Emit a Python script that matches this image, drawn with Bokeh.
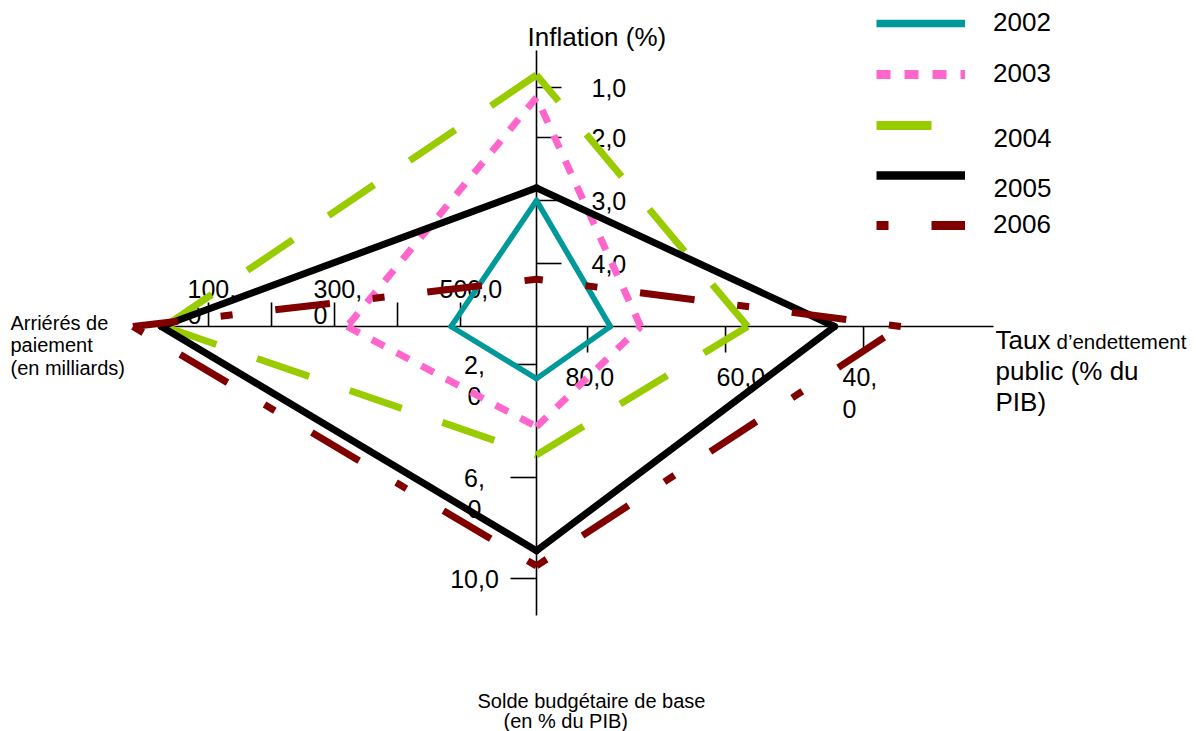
import numpy as np
from bokeh.plotting import figure
from bokeh.models import Range1d, Legend, LegendItem, ColumnDataSource
from bokeh.core.properties import value
from bokeh.embed import file_html
from bokeh.resources import INLINE

# ---------------- data ----------------
years = ["2002", "2003", "2004", "2005", "2006"]
inflation = [3.0, 1.2, 0.75, 2.8, 4.25]        # Inflation (%)
dette = [76.7, 72.3, 56.8, 44.2, 34.6]         # Taux d'endettement public (% du PIB)
solde = [2.5, 4.2, 5.2, 8.9, 9.5]              # Solde budgétaire de base (en % du PIB)
arrieres = [485, 320, 30, 25, -20]             # Arriérés de paiement (en milliards)

inflation_ticks = [1.0, 2.0, 3.0, 4.0]
inflation_tick_labels = ["1,0", "2,0", "3,0", "4,0"]
dette_ticks = [80.0, 60.0, 40.0]
dette_tick_labels = ["80,0", "60,0", "40,\n0"]
solde_ticks = [2.0, 6.0, 10.0]
solde_tick_labels = ["2,\n0", "6,\n0", "10,0"]
arrieres_ticks = [100, 200, 300, 400, 500]
arrieres_tick_labels = ["100,\n0", "", "300,\n0", "", "500,0"]

# ---------------- axis scales (value -> distance from centre, px) ----------------
def lin_ext(v, kv, kr):
    kv = np.asarray(kv, float); kr = np.asarray(kr, float)
    order = np.argsort(kv); kv = kv[order]; kr = kr[order]
    v = np.atleast_1d(np.asarray(v, float))
    out = np.interp(v, kv, kr)
    lo = v < kv[0]; hi = v > kv[-1]
    out[lo] = kr[0] + (v[lo] - kv[0]) * (kr[1] - kr[0]) / (kv[1] - kv[0])
    out[hi] = kr[-1] + (v[hi] - kv[-1]) * (kr[-1] - kr[-2]) / (kv[-1] - kv[-2])
    return out

def r_infl(v):
    return lin_ext(v, [1, 2, 3, 4, 5], [239, 189, 126, 63, 0])

def r_solde(v):
    return lin_ext(v, [0, 2, 6, 10], [0, 38, 151, 252])

def r_dette(v):
    return (87.4 - np.asarray(v, float)) * 6.9

def r_arr(v):
    return (620.6 - np.asarray(v, float)) * 0.63

FONT_NAME = "Liberation Sans"
FONT = value(FONT_NAME)

W, H = 1196, 731
p = figure(width=W, height=H, x_range=Range1d(-536, W - 536), y_range=Range1d(326 - H, 326),
           output_backend="svg", toolbar_location=None, min_border=0,
           x_axis_type=None, y_axis_type=None)
p.grid.visible = False
p.outline_line_color = None
p.background_fill_color = "white"
p.border_fill_color = "white"

def add_text(xs, ys, texts, size, align="left", baseline="middle", line_h=28, color="black"):
    X, Y, T = [], [], []
    for x, y, t in zip(xs, ys, texts):
        for k, line in enumerate(t.split("\n")):
            if line == "":
                continue
            X.append(float(x)); Y.append(float(y) - k * line_h); T.append(line)
    src = ColumnDataSource(dict(x=X, y=Y, text=T))
    p.text(x="x", y="y", text="text", source=src, text_font=FONT, text_font_size=size,
           text_align=align, text_baseline=baseline, text_color=color)

# ---------------- axes ----------------
AX_W = 1.6
p.segment(x0=[0, -379], y0=[276, 0], x1=[0, 457], y1=[-289, 0], line_color="black", line_width=AX_W)

ri = r_infl(inflation_ticks)
p.segment(x0=np.zeros_like(ri), y0=ri, x1=np.full_like(ri, 25), y1=ri, line_color="black", line_width=AX_W)
rs = r_solde(solde_ticks)
p.segment(x0=np.full_like(rs, -26), y0=-rs, x1=np.zeros_like(rs), y1=-rs, line_color="black", line_width=AX_W)
ra = r_arr(arrieres_ticks)
p.segment(x0=-ra, y0=np.zeros_like(ra), x1=-ra, y1=np.full_like(ra, 24), line_color="black", line_width=AX_W)
rd = r_dette(dette_ticks)
p.segment(x0=rd, y0=np.zeros_like(rd), x1=rd, y1=np.full_like(rd, -26), line_color="black", line_width=AX_W)

# tick labels
add_text(np.full_like(ri, 55), ri, inflation_tick_labels, "25px", "left")
add_text(np.full_like(rs, -62), -rs, solde_tick_labels, "25px", "center", line_h=31)
add_text(-ra - 21, np.full_like(ra, 38), arrieres_tick_labels, "25px", "left", line_h=26)
dette_label_dx = [-22, -9, -21]
add_text(rd + np.array(dette_label_dx), np.full_like(rd, -50), dette_tick_labels, "25px", "left", line_h=32)

# axis titles
add_text([-9], [290], ["Inflation (%)"], "26px", "left")
add_text([459], [-13], ["Taux"], "26px", "left")
add_text([520], [-15], ["d\u2019endettement"], "20.5px", "left")
add_text([459, 459], [-44, -75], ["public (% du", "PIB)"], "26px", "left")
add_text([-526], [4], ["Arriérés de\npaiement\n(en milliards)"], "20px", "left", line_h=22.5)
add_text([-59], [-374], ["Solde budgétaire de base"], "20px", "left")
add_text([-33], [-394], ["(en % du PIB)"], "20px", "left")

# ---------------- series ----------------
styles = {
    "2002": dict(color="#009999", width=5.5, dash="solid", cap="round", leg_width=7.5),
    "2003": dict(color="#FF66CC", width=7, dash="14 14", cap="butt", leg_width=9),
    "2004": dict(color="#99CC00", width=7, dash="55 43", cap="butt", leg_width=9),
    "2005": dict(color="#000000", width=7, dash="solid", cap="round", leg_width=8.5),
    "2006": dict(color="#800000", width=7, dash="12 43 55 43", cap="butt", leg_width=9),
}

rI = r_infl(inflation); rD = r_dette(dette); rS = r_solde(solde); rA = r_arr(arrieres)
proxies = {}
for i, yr in enumerate(years):
    st = styles[yr]
    # vertices: bottom (solde), right (dette), top (inflation), left (arriérés);
    # each side is its own stroke so the dash pattern restarts at every vertex
    vx = [0.0, rD[i], 0.0, -rA[i]]
    vy = [-rS[i], 0.0, rI[i], 0.0]
    x0 = vx; y0 = vy
    x1 = vx[1:] + vx[:1]; y1 = vy[1:] + vy[:1]
    p.segment(x0=x0, y0=y0, x1=x1, y1=y1, line_color=st["color"], line_width=st["width"],
              line_dash=st["dash"], line_cap=st["cap"])
    # legend key (NaN data: nothing drawn in the plot, only in the legend)
    proxies[yr] = p.line([np.nan], [np.nan], line_color=st["color"], line_width=st["leg_width"],
                         line_dash=st["dash"], line_cap="butt")

def make_legend(items, labels, loc):
    lg = Legend(items=[LegendItem(label=lb, renderers=[proxies[y]]) for y, lb in zip(items, labels)],
                location=loc, orientation="vertical", glyph_width=89, glyph_height=30,
                label_height=30, label_width=10, label_standoff=28, spacing=20,
                padding=0, margin=0, border_line_alpha=0, background_fill_alpha=0,
                label_text_font=FONT_NAME, label_text_font_size="26px",
                label_text_color="black")
    p.add_layout(lg)

LEG_X = 876
make_legend(["2002", "2003"], ["2002", "2003"], (LEG_X, H - 89))
make_legend(["2004", "2005"], [" ", " "], (LEG_X, H - 190))
make_legend(["2006"], ["2006"], (LEG_X, H - 240))
# labels of 2004 / 2005 sit a little lower than their keys
add_text([457, 457], [189, 139], ["2004", "2005"], "26px", "left")

open("out.html", "w").write(file_html(p, INLINE))
